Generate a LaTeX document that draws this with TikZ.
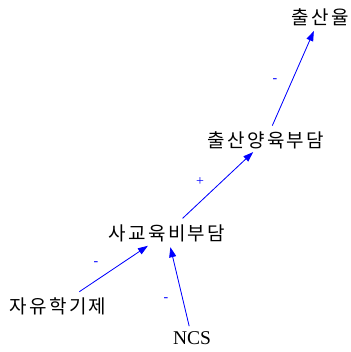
\documentclass[tikz,border=0pt]{standalone}
\usepackage{fontspec}
\setmainfont{Liberation Serif}
\newfontfamily\kofont[LetterSpace=12]{Noto Sans CJK KR}
\usetikzlibrary{arrows.meta}
\tikzset{
  term/.style={inner sep=0pt, font=\kofont\fontsize{19}{21}\selectfont},
  latin/.style={inner sep=0pt, font=\fontsize{19.5}{22}\selectfont},
  sign/.style={inner sep=0pt, text=blue, font=\fontsize{14}{15}\selectfont},
  link/.style={draw=blue, line width=0.8pt, -{Triangle[length=10pt,width=7pt]}, fill=blue},
}
\begin{document}
\begin{tikzpicture}[x=1pt,y=-1pt]
\useasboundingbox (0,0) rectangle (350,352);
\node[term] (rate) at (320,17) {출산율};
\node[term] (burden) at (266,140) {출산양육부담};
\node[term] (private) at (167,233) {사교육비부담};
\node[term] (free) at (58,306) {자유학기제};
\node[latin] (ncs) at (192,338) {NCS};
\draw[link, shorten <=15.7pt, shorten >=15.3pt] (burden.center) -- (rate.center);
\draw[link, shorten <=21.4pt, shorten >=17.7pt] (private.center) -- (burden.center);
\draw[link, shorten <=25.6pt, shorten >=23pt] (free.center) -- (private.center);
\draw[link, shorten <=12.2pt, shorten >=14.6pt] (ncs.center) -- (private.center);
\node[sign] (s1) at (275,81) {-};
\node[sign] (s2) at (200,182) {+};
\node[sign] (s3) at (96,264) {-};
\node[sign] (s4) at (166,300) {-};
\end{tikzpicture}
\end{document}
